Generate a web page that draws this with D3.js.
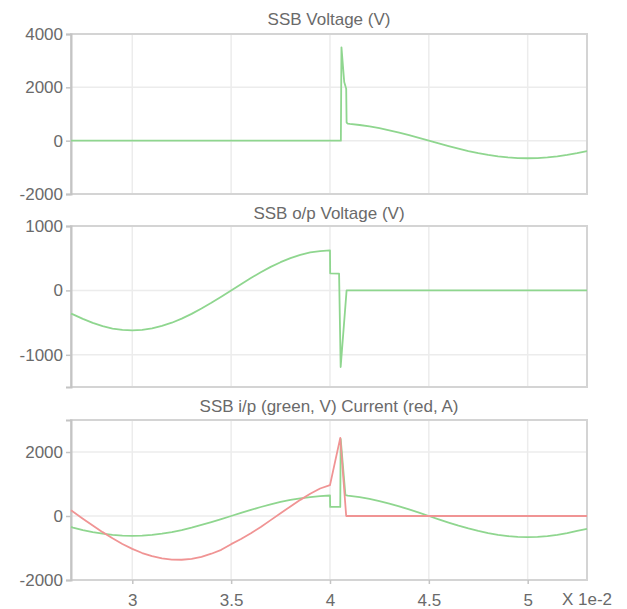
<!DOCTYPE html>
<html>
<head>
<meta charset="utf-8">
<script src="https://cdn.jsdelivr.net/npm/d3@7"></script>
<style>
  html, body { margin: 0; padding: 0; background: #ffffff; }
  svg { display: block; }
  text { font-family: "Liberation Sans", Arial, Helvetica, sans-serif; fill: #6a6a6a; }
</style>
</head>
<body>
<script>
// ---------- data (x in units of 1e-2 s) ----------
const xTicks = [3, 3.5, 4, 4.5, 5];
const xDomain = [2.69, 5.30];
const xUnitLabel = "X 1e-2";

const titles = ["SSB Voltage (V)", "SSB o/p Voltage (V)", "SSB i/p (green, V) Current (red, A)"];
const yTicksTop = [-2000, 0, 2000, 4000];
const yTicksMid = [-1000, 0, 1000];
const yTicksBot = [-2000, 0, 2000];
const yDomTop = [-2000, 4000];
const yDomMid = [-1500, 1000];
const yDomBot = [-2000, 3000];

// Panel 1: SSB voltage
const ssbVoltX = [2.69, 4.055, 4.058, 4.072, 4.082, 4.084, 4.09, 4.10, 4.15, 4.20, 4.25, 4.30, 4.35, 4.40, 4.45, 4.50, 4.55, 4.60, 4.65, 4.70, 4.75, 4.80, 4.85, 4.90, 4.95, 5.00, 5.05, 5.10, 5.15, 5.20, 5.25, 5.30];
const ssbVoltY = [0, 0, 3500, 2200, 1950, 680, 640, 628, 588, 534, 467, 388, 300, 204, 103, 0, -103, -204, -300, -388, -467, -534, -588, -628, -652, -660, -652, -628, -588, -534, -467, -388];

// Panel 2: SSB output voltage
const outVoltX = [2.69, 2.70, 2.75, 2.80, 2.85, 2.90, 2.95, 3.00, 3.05, 3.10, 3.15, 3.20, 3.25, 3.30, 3.35, 3.40, 3.45, 3.50, 3.55, 3.60, 3.65, 3.70, 3.75, 3.80, 3.85, 3.90, 3.95, 4.00, 4.001, 4.046, 4.054, 4.084, 5.30];
const outVoltY = [-360, -372, -442, -505, -555, -592, -614, -620, -613, -590, -552, -502, -438, -365, -281, -192, -97, 0, 97, 192, 281, 365, 438, 502, 552, 590, 610, 620, 265, 260, -1190, 0, 0];

// Panel 3: SSB input voltage (green)
const inVoltX = [2.69, 2.70, 2.75, 2.80, 2.85, 2.90, 2.95, 3.00, 3.05, 3.10, 3.15, 3.20, 3.25, 3.30, 3.35, 3.40, 3.45, 3.50, 3.55, 3.60, 3.65, 3.70, 3.75, 3.80, 3.85, 3.90, 3.95, 4.00, 4.001, 4.052, 4.054, 4.078, 4.09, 4.10, 4.15, 4.20, 4.25, 4.30, 4.35, 4.40, 4.45, 4.50, 4.55, 4.60, 4.65, 4.70, 4.75, 4.80, 4.85, 4.90, 4.95, 5.00, 5.05, 5.10, 5.15, 5.20, 5.25, 5.30];
const inVoltY = [-340, -360, -438, -502, -552, -590, -613, -620, -613, -590, -552, -502, -438, -365, -281, -192, -97, 0, 97, 192, 281, 365, 438, 502, 552, 590, 620, 640, 285, 285, 2410, 650, 634, 628, 588, 534, 467, 388, 300, 204, 103, 0, -103, -204, -300, -388, -467, -534, -588, -628, -652, -660, -652, -628, -588, -534, -467, -400];

// Panel 3: SSB current (red)
const currX = [2.69, 2.75, 2.80, 2.85, 2.90, 2.95, 3.00, 3.05, 3.10, 3.15, 3.20, 3.25, 3.30, 3.35, 3.40, 3.45, 3.50, 3.55, 3.60, 3.65, 3.70, 3.75, 3.80, 3.85, 3.90, 3.95, 4.00, 4.052, 4.082, 5.30];
const currY = [180, -86, -299, -504, -697, -873, -1028, -1157, -1257, -1327, -1364, -1367, -1337, -1274, -1179, -1056, -880, -720, -540, -341, -129, 86, 299, 504, 697, 860, 965, 2440, 0, 0];

// ---------- layout ----------
const W = 627, H = 609;
const left = 71, right = 587;
const panels = [
  { top: 34, bottom: 194, yDom: yDomTop, yTicks: yTicksTop, title: titles[0], titleY: 25,
    series: [{ x: ssbVoltX, y: ssbVoltY, color: "#8fd68f" }] },
  { top: 226, bottom: 387, yDom: yDomMid, yTicks: yTicksMid, title: titles[1], titleY: 219,
    series: [{ x: outVoltX, y: outVoltY, color: "#8fd68f" }] },
  { top: 420, bottom: 580, yDom: yDomBot, yTicks: yTicksBot, title: titles[2], titleY: 412,
    series: [{ x: inVoltX, y: inVoltY, color: "#8fd68f" }, { x: currX, y: currY, color: "#f09494" }] }
];

const svg = d3.select("body").append("svg").attr("width", W).attr("height", H);
const x = d3.scaleLinear().domain(xDomain).range([left, right]);
const fmt = d => String(d);

panels.forEach((p, i) => {
  const y = d3.scaleLinear().domain(p.yDom).range([p.bottom, p.top]);
  const g = svg.append("g");

  // grid
  g.selectAll("line.vg").data(xTicks).join("line")
    .attr("x1", d => x(d)).attr("x2", d => x(d))
    .attr("y1", p.top).attr("y2", p.bottom)
    .attr("stroke", "#ececec").attr("stroke-width", 1.5);
  g.selectAll("line.hg").data(p.yTicks).join("line")
    .attr("x1", left).attr("x2", right)
    .attr("y1", d => y(d)).attr("y2", d => y(d))
    .attr("stroke", "#ececec").attr("stroke-width", 1.5);

  // frame
  g.append("rect")
    .attr("x", left).attr("y", p.top)
    .attr("width", right - left).attr("height", p.bottom - p.top)
    .attr("fill", "none").attr("stroke", "#d4d4d4").attr("stroke-width", 2);

  // y axis
  const ya = g.append("g").attr("transform", `translate(${left},0)`)
    .call(d3.axisLeft(y).tickValues(p.yTicks).tickSize(5).tickPadding(3).tickFormat(fmt));
  ya.select(".domain").attr("stroke", "#c4c4c4").attr("stroke-width", 2);
  ya.selectAll(".tick line").attr("stroke", "#c4c4c4").attr("stroke-width", 1.5);
  ya.selectAll(".tick text").style("font-size", "17px").attr("fill", "#6a6a6a")
    .style("font-family", "'Liberation Sans', Arial, sans-serif");

  // title
  g.append("text").attr("x", (left + right) / 2).attr("y", p.titleY)
    .attr("text-anchor", "middle").style("font-size", "17px").text(p.title);

  // series
  p.series.forEach(s => {
    const pts = s.x.map((v, k) => [v, s.y[k]]);
    g.append("path").datum(pts)
      .attr("fill", "none").attr("stroke", s.color).attr("stroke-width", 1.8)
      .attr("stroke-linejoin", "round")
      .attr("d", d3.line().x(d => x(d[0])).y(d => y(d[1])));
  });

  // x axis on bottom panel
  if (i === panels.length - 1) {
    const xa = g.append("g").attr("transform", `translate(0,${p.bottom})`)
      .call(d3.axisBottom(x).tickValues(xTicks).tickSize(4).tickPadding(10).tickFormat(fmt));
    xa.select(".domain").remove();
    xa.selectAll(".tick line").attr("stroke", "#c4c4c4").attr("stroke-width", 1.5);
    xa.selectAll(".tick text").style("font-size", "17px").attr("fill", "#6a6a6a")
      .style("font-family", "'Liberation Sans', Arial, sans-serif");
    g.append("text").attr("x", right).attr("y", 605)
      .attr("text-anchor", "middle").style("font-size", "17px").text(xUnitLabel);
  }
});
</script>
</body>
</html>
